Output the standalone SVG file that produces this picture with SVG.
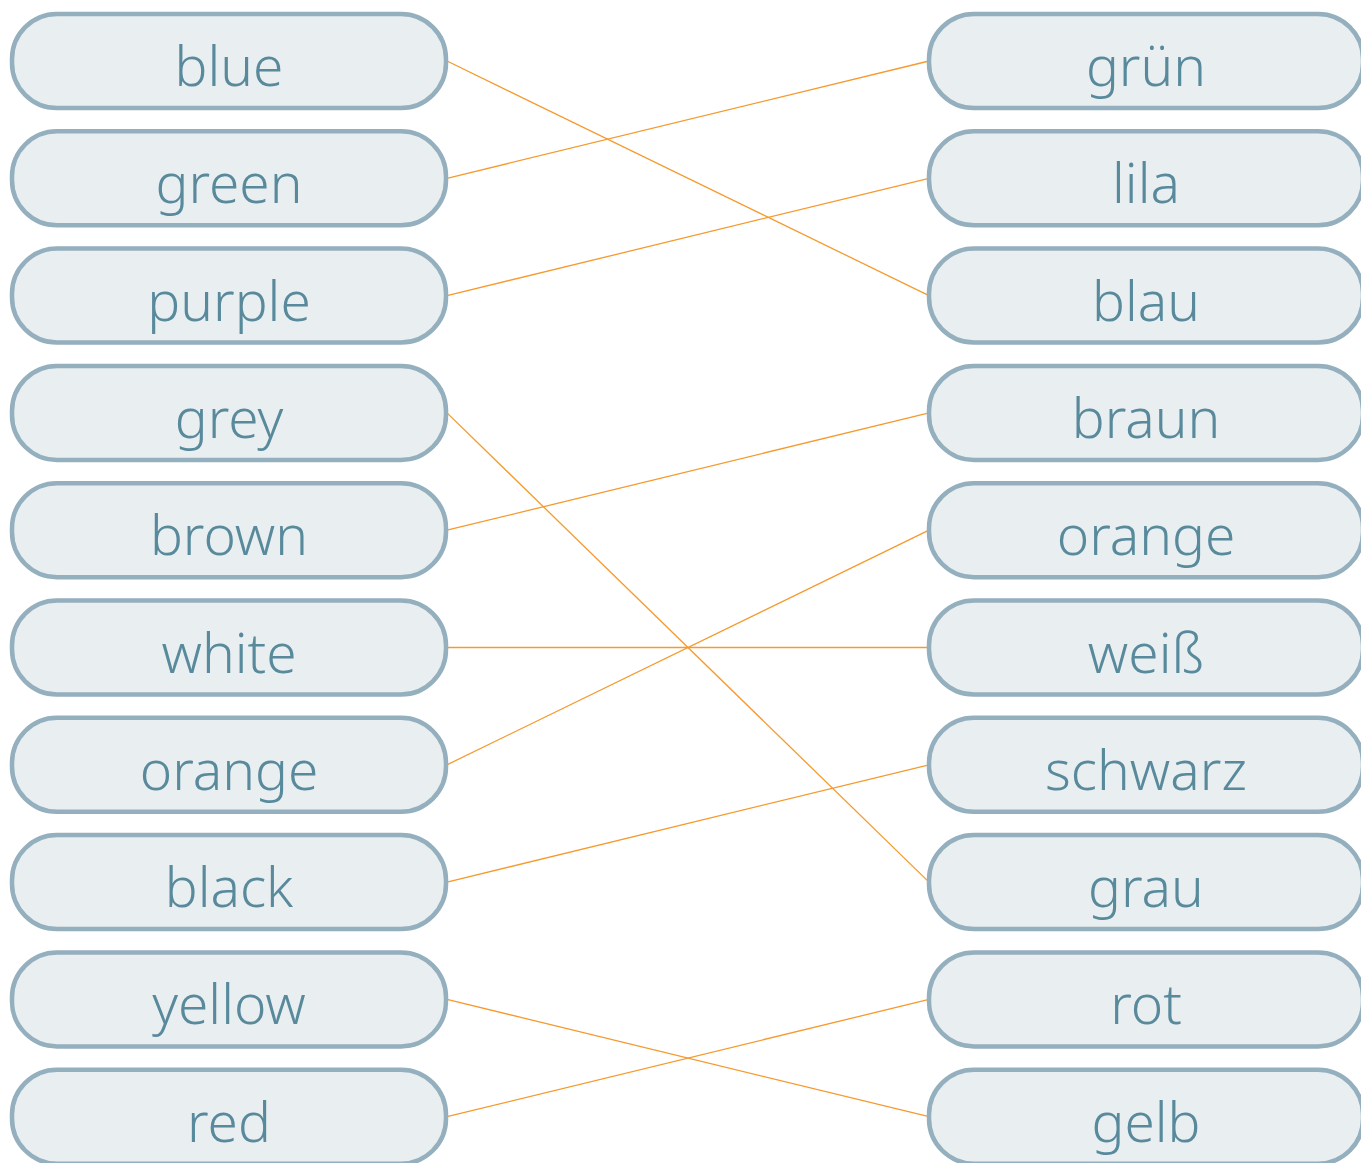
<svg xmlns="http://www.w3.org/2000/svg" width="1361" height="1163" viewBox="0 0 1361 1163">
<style>
.box{fill:#e9eef1;stroke:#94afbd;stroke-width:4.5}
.lbl{font-family:"Noto Sans","DejaVu Sans",sans-serif;font-size:55px;font-weight:300;fill:#588a9c;text-anchor:middle}
.con{stroke:#f59a2e;stroke-width:1.3;fill:none}
</style>
<rect width="1361" height="1163" fill="#ffffff"/>
<g id="connectors">
<line class="con" x1="447" y1="61" x2="929" y2="295.6"/>
<line class="con" x1="447" y1="178.3" x2="929" y2="61"/>
<line class="con" x1="447" y1="295.6" x2="929" y2="178.3"/>
<line class="con" x1="447" y1="412.9" x2="929" y2="882.1"/>
<line class="con" x1="447" y1="530.2" x2="929" y2="412.9"/>
<line class="con" x1="447" y1="647.5" x2="929" y2="647.5"/>
<line class="con" x1="447" y1="764.8" x2="929" y2="530.2"/>
<line class="con" x1="447" y1="882.1" x2="929" y2="764.8"/>
<line class="con" x1="447" y1="999.4" x2="929" y2="1116.7"/>
<line class="con" x1="447" y1="1116.7" x2="929" y2="999.4"/>
</g>
<g id="l0"><rect class="box" x="12" y="14" width="434" height="94" rx="45"/><text class="lbl" x="229" y="86">blue</text></g>
<g id="l1"><rect class="box" x="12" y="131.3" width="434" height="94" rx="45"/><text class="lbl" x="229" y="203.3">green</text></g>
<g id="l2"><rect class="box" x="12" y="248.6" width="434" height="94" rx="45"/><text class="lbl" x="229" y="320.6">purple</text></g>
<g id="l3"><rect class="box" x="12" y="365.9" width="434" height="94" rx="45"/><text class="lbl" x="229" y="437.9">grey</text></g>
<g id="l4"><rect class="box" x="12" y="483.2" width="434" height="94" rx="45"/><text class="lbl" x="229" y="555.2">brown</text></g>
<g id="l5"><rect class="box" x="12" y="600.5" width="434" height="94" rx="45"/><text class="lbl" x="229" y="672.5">white</text></g>
<g id="l6"><rect class="box" x="12" y="717.8" width="434" height="94" rx="45"/><text class="lbl" x="229" y="789.8">orange</text></g>
<g id="l7"><rect class="box" x="12" y="835.1" width="434" height="94" rx="45"/><text class="lbl" x="229" y="907.1">black</text></g>
<g id="l8"><rect class="box" x="12" y="952.4" width="434" height="94" rx="45"/><text class="lbl" x="229" y="1024.4">yellow</text></g>
<g id="l9"><rect class="box" x="12" y="1069.7" width="434" height="94" rx="45"/><text class="lbl" x="229" y="1141.7">red</text></g>
<g id="r0"><rect class="box" x="929" y="14" width="434" height="94" rx="45"/><text class="lbl" x="1146" y="86">grün</text></g>
<g id="r1"><rect class="box" x="929" y="131.3" width="434" height="94" rx="45"/><text class="lbl" x="1146" y="203.3">lila</text></g>
<g id="r2"><rect class="box" x="929" y="248.6" width="434" height="94" rx="45"/><text class="lbl" x="1146" y="320.6">blau</text></g>
<g id="r3"><rect class="box" x="929" y="365.9" width="434" height="94" rx="45"/><text class="lbl" x="1146" y="437.9">braun</text></g>
<g id="r4"><rect class="box" x="929" y="483.2" width="434" height="94" rx="45"/><text class="lbl" x="1146" y="555.2">orange</text></g>
<g id="r5"><rect class="box" x="929" y="600.5" width="434" height="94" rx="45"/><text class="lbl" x="1146" y="672.5">weiß</text></g>
<g id="r6"><rect class="box" x="929" y="717.8" width="434" height="94" rx="45"/><text class="lbl" x="1146" y="789.8">schwarz</text></g>
<g id="r7"><rect class="box" x="929" y="835.1" width="434" height="94" rx="45"/><text class="lbl" x="1146" y="907.1">grau</text></g>
<g id="r8"><rect class="box" x="929" y="952.4" width="434" height="94" rx="45"/><text class="lbl" x="1146" y="1024.4">rot</text></g>
<g id="r9"><rect class="box" x="929" y="1069.7" width="434" height="94" rx="45"/><text class="lbl" x="1146" y="1141.7">gelb</text></g>
</svg>
